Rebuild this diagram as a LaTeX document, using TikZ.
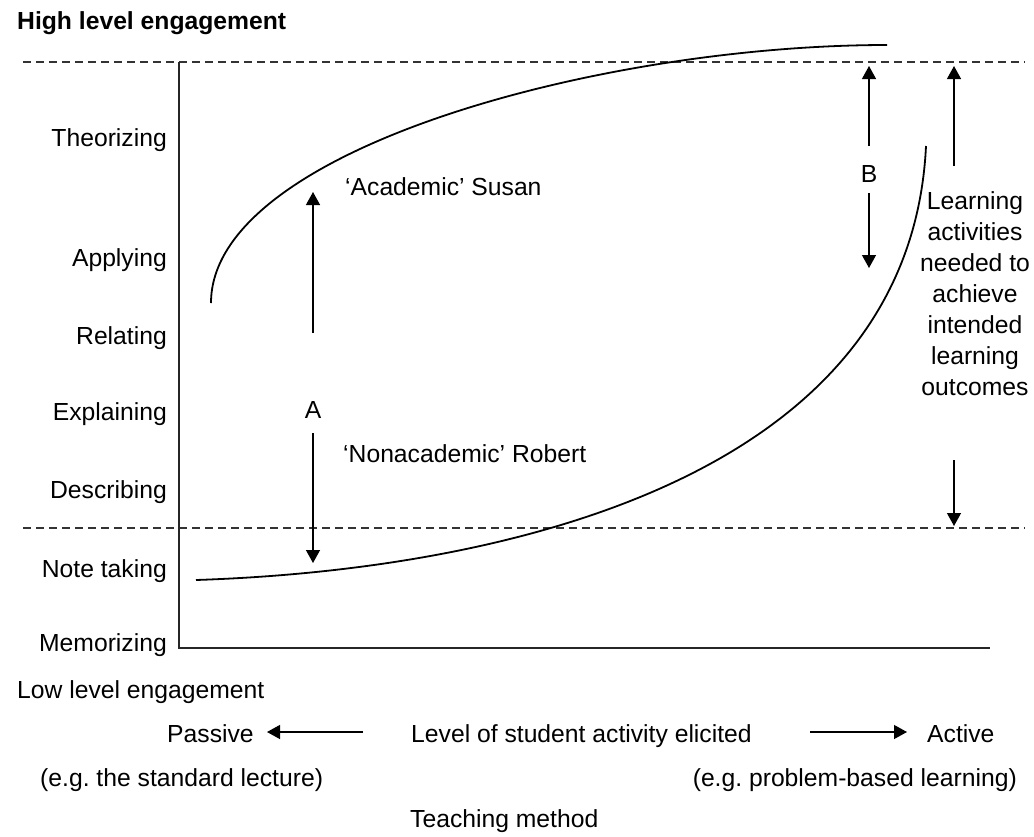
\documentclass[tikz,border=0pt]{standalone}
\usepackage{fontspec}
\setmainfont{Liberation Sans}
\usetikzlibrary{arrows.meta}
\frenchspacing
\begin{document}
\begin{tikzpicture}[x=1pt,y=-1pt,
  lab/.style={inner sep=0pt, font=\fontsize{24.7}{31}\selectfont},
  ylab/.style={lab, anchor=base east},
  arr/.style={line width=1.3pt, -{Triangle[length=13pt,width=14pt]}},
  dashline/.style={dash pattern=on 8pt off 5pt, line width=1.1pt, black!80},
  curve/.style={line width=1.8pt},
  axis/.style={line width=1.2pt, black!85}]

\path[fill=white] (0,0) rectangle (1034,836);
\useasboundingbox (0,0) rectangle (1034,836);

% title labels
\node[lab, anchor=base west, font=\fontsize{24.7}{31}\selectfont\bfseries] (high) at (17,29) {High level engagement};
\node[lab, anchor=base west] (low) at (17,698) {Low level engagement};

% y labels
\node[ylab] (theo) at (167,146) {Theorizing};
\node[ylab] (appl) at (167,266) {Applying};
\node[ylab] (rela) at (167,344) {Relating};
\node[ylab] (expl) at (167,420) {Explaining};
\node[ylab] (desc) at (167,498) {Describing};
\node[ylab] (note) at (167,577) {Note taking};
\node[ylab] (memo) at (167,651) {Memorizing};

% dashed lines
\coordinate (tl) at (23,62);
\coordinate (tr) at (1025,62);
\coordinate (bl) at (23,528);
\coordinate (br) at (1025,528);
\draw[dashline] (tl) -- (tr);
\draw[dashline] (bl) -- (br);

% axes
\coordinate (ytop) at (179,62);
\coordinate (orig) at (179,648);
\coordinate (xend) at (990,648);
\draw[axis] (ytop) -- (orig) -- (xend);

% curves
\draw[curve] (211,303) .. controls (211,150) and (600,45) .. (887,45);
\draw[curve] (196,580) .. controls (500,570) and (910,480) .. (926,146);

% A arrows
\node[lab] (A) at (313,410) {A};
\coordinate (A1) at (313,333);
\coordinate (A2) at (313,192);
\coordinate (A3) at (313,433);
\coordinate (A4) at (313,563);
\draw[arr] (A1) -- (A2);
\draw[arr] (A3) -- (A4);

\node[lab, anchor=base west] (susan) at (345,195) {‘Academic’ Susan};
\node[lab, anchor=base west] (robert) at (343,462) {‘Nonacademic’ Robert};

% B arrows
\node[lab] (B) at (869,174) {B};
\coordinate (B1) at (869,146);
\coordinate (B2) at (869,66);
\coordinate (B3) at (869,193);
\coordinate (B4) at (869,268);
\draw[arr] (B1) -- (B2);
\draw[arr] (B3) -- (B4);

% learning activities
\node[lab, align=center] (learn) at (975,294) {Learning\\activities\\needed to\\achieve\\intended\\learning\\outcomes};
\coordinate (L1) at (954,166);
\coordinate (L2) at (954,66);
\coordinate (L3) at (954,460);
\coordinate (L4) at (954,526);
\draw[arr] (L1) -- (L2);
\draw[arr] (L3) -- (L4);

% bottom
\node[lab, anchor=base west] (passive) at (167,742) {Passive};
\node[lab, anchor=base west] (level) at (411,742) {Level of student activity elicited};
\node[lab, anchor=base west] (active) at (927,742) {Active};
\coordinate (P1) at (363,732);
\coordinate (P2) at (267,732);
\coordinate (Q1) at (810,732);
\coordinate (Q2) at (907,732);
\draw[arr] (P1) -- (P2);
\draw[arr] (Q1) -- (Q2);

\node[lab, anchor=base west] (eg1) at (40,786) {(e.g. the standard lecture)};
\node[lab, anchor=base east] (eg2) at (1017,786) {(e.g. problem-based learning)};
\node[lab, anchor=base west] (teach) at (410,827) {Teaching method};
\end{tikzpicture}
\end{document}
